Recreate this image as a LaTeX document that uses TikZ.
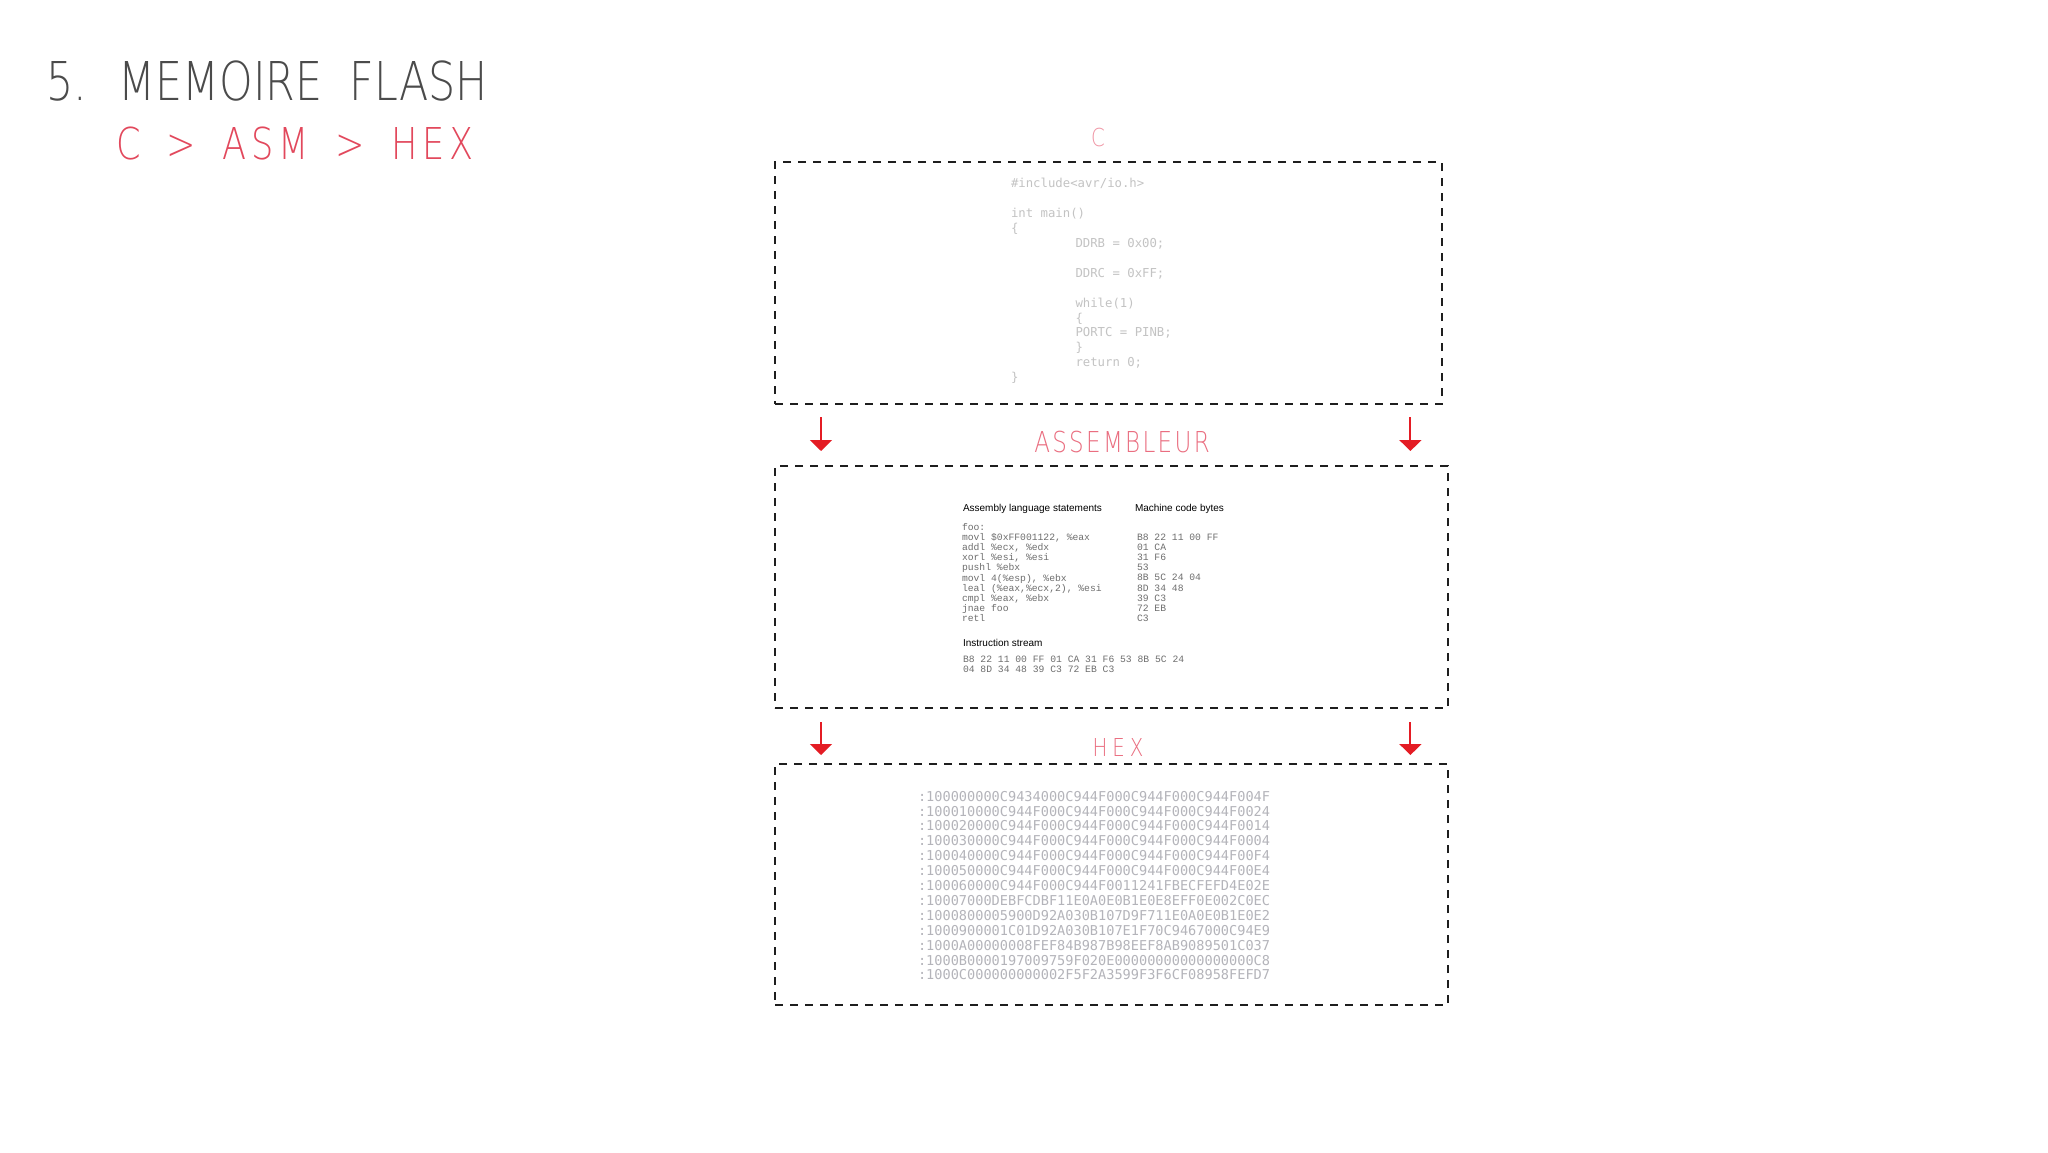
\documentclass[tikz,border=0pt]{standalone}
\usepackage{fontspec}
\usetikzlibrary{arrows.meta,calc}
\newfontfamily\cadfont{DejaVu Sans ExtraLight}[FakeStretch=0.8]
\newfontfamily\cadtitle{DejaVu Sans ExtraLight}[FakeStretch=0.8, WordSpace=2.0]
\newfontfamily\cadsub{DejaVu Sans ExtraLight}[FakeStretch=0.8, LetterSpace=11, WordSpace=1.65]
\newfontfamily\cadasm{DejaVu Sans ExtraLight}[FakeStretch=0.8, LetterSpace=8]
\newfontfamily\cadhex{DejaVu Sans ExtraLight}[FakeStretch=0.8, LetterSpace=20]
\newfontfamily\monofont{DejaVu Sans Mono}
\newfontfamily\helv{Liberation Sans}
\newfontfamily\cour{Liberation Mono}
\definecolor{titlegray}{RGB}{75,75,75}
\definecolor{subred}{RGB}{226,72,92}
\definecolor{labelred}{RGB}{234,110,128}
\definecolor{labelpink}{RGB}{240,150,165}
\definecolor{arrowred}{RGB}{228,28,36}
\definecolor{codegray}{RGB}{195,195,195}
\definecolor{hexgray}{RGB}{180,180,186}
\definecolor{asmgray}{RGB}{110,110,110}
\definecolor{boxblack}{RGB}{30,30,30}
\tikzset{
  dbox/.style={draw=boxblack, line width=1.2pt, dash pattern=on 4pt off 3.5pt, inner sep=0pt, anchor=north west},
  redarrow/.style={draw=arrowred, line width=1pt, -{Triangle[width=11pt,length=5.5pt]}},
  txt/.style={inner sep=0pt, outer sep=0pt},
}
\begin{document}
\begin{tikzpicture}[x=0.5pt,y=-0.5pt]
\useasboundingbox (0,0) rectangle (2048,1152);
\fill[white] (0,0) rectangle (2048,1152);

% titles
\node[txt, anchor=base west, text=titlegray, font={\cadtitle\fontsize{26.75pt}{30pt}\selectfont}] (title) at (46,100) {5. MEMOIRE FLASH};
\node[txt, anchor=base west, text=subred, font={\cadsub\fontsize{21.95pt}{25pt}\selectfont}] (subtitle) at (116,159) {C > ASM > HEX};

% section labels
\node[txt, anchor=base, text=labelpink, font={\cadfont\fontsize{12.35pt}{14pt}\selectfont}] (clabel) at (1098,146) {C};
\node[txt, anchor=base, text=labelred, font={\cadasm\fontsize{14.4pt}{16pt}\selectfont}] (asmlabel) at (1122,452) {ASSEMBLEUR};
\node[txt, anchor=base, text=labelred, font={\cadhex\fontsize{12.35pt}{14pt}\selectfont}] (hexlabel) at (1118,756) {HEX};

% boxes
\node[dbox, minimum width=333.5pt, minimum height=121pt] (cbox) at (774,161) {};
\node[dbox, minimum width=336.5pt, minimum height=121pt] (asmbox) at (774,465) {};
\node[dbox, minimum width=336.5pt, minimum height=120.5pt] (hexbox) at (774,763) {};

% C code
\node[txt, anchor=north west, align=left, text=codegray, font={\monofont\fontsize{6.15pt}{7.45pt}\selectfont}] (ccode) at (1011,178.5)
{\#include<avr/io.h>\\
\mbox{}\\
int main()\\
\{\\
\hspace*{32.25pt}DDRB = 0x00;\\
\mbox{}\\
\hspace*{32.25pt}DDRC = 0xFF;\\
\mbox{}\\
\hspace*{32.25pt}while(1)\\
\hspace*{32.25pt}\{\\
\hspace*{32.25pt}PORTC = PINB;\\
\hspace*{32.25pt}\}\\
\hspace*{32.25pt}return 0;\\
\}};

% ASM panel
\node[txt, anchor=base west, font={\helv\fontsize{5pt}{6pt}\selectfont}] (h1) at (963,511.5) {Assembly language statements};
\node[txt, anchor=base west, font={\helv\fontsize{5pt}{6pt}\selectfont}] (h2) at (1135,511.5) {Machine code bytes};
\node[txt, anchor=north west, align=left, text=asmgray, font={\cour\fontsize{4.85pt}{5.1pt}\selectfont}] (asmcode) at (962,523)
{foo:\\
movl \$0xFF001122, \%eax\\
addl \%ecx, \%edx\\
xorl \%esi, \%esi\\
pushl \%ebx\\
movl 4(\%esp), \%ebx\\
leal (\%eax,\%ecx,2), \%esi\\
cmpl \%eax, \%ebx\\
jnae foo\\
retl};
\node[txt, anchor=north west, align=left, text=asmgray, font={\cour\fontsize{4.85pt}{5.1pt}\selectfont}] (bytes) at (1137,533.5)
{B8 22 11 00 FF\\
01 CA\\
31 F6\\
53\\
8B 5C 24 04\\
8D 34 48\\
39 C3\\
72 EB\\
C3};
\node[txt, anchor=base west, font={\helv\fontsize{5pt}{6pt}\selectfont}] (h3) at (963,646.5) {Instruction stream};
\node[txt, anchor=north west, align=left, text=asmgray, font={\cour\fontsize{4.85pt}{5.1pt}\selectfont}] (stream) at (963,656)
{B8 22 11 00 FF 01 CA 31 F6 53 8B 5C 24\\
04 8D 34 48 39 C3 72 EB C3};

% HEX
\node[txt, anchor=north west, align=left, text=hexgray, font={\monofont\fontsize{6.8pt}{7.45pt}\selectfont}] (hexcode) at (918,791)
{:100000000C9434000C944F000C944F000C944F004F\\
:100010000C944F000C944F000C944F000C944F0024\\
:100020000C944F000C944F000C944F000C944F0014\\
:100030000C944F000C944F000C944F000C944F0004\\
:100040000C944F000C944F000C944F000C944F00F4\\
:100050000C944F000C944F000C944F000C944F00E4\\
:100060000C944F000C944F0011241FBECFEFD4E02E\\
:10007000DEBFCDBF11E0A0E0B1E0E8EFF0E002C0EC\\
:1000800005900D92A030B107D9F711E0A0E0B1E0E2\\
:1000900001C01D92A030B107E1F70C9467000C94E9\\
:1000A00000008FEF84B987B98EEF8AB9089501C037\\
:1000B0000197009759F020E00000000000000000C8\\
:1000C000000000002F5F2A3599F3F6CF08958FEFD7};

% arrows
\coordinate (a1s) at ($(cbox.south west)+(47,12)$);
\coordinate (a1e) at ($(asmbox.north west)+(47,-14)$);
\coordinate (a2s) at ($(cbox.south east)+(-33,12)$);
\coordinate (a2e) at ($(asmbox.north east)+(-39,-14)$);
\coordinate (a3s) at ($(asmbox.south west)+(47,13)$);
\coordinate (a3e) at ($(hexbox.north west)+(47,-8)$);
\coordinate (a4s) at ($(asmbox.south east)+(-39,13)$);
\coordinate (a4e) at ($(hexbox.north east)+(-39,-8)$);
\draw[redarrow] (a1s) -- (a1e);
\draw[redarrow] (a2s) -- (a2e);
\draw[redarrow] (a3s) -- (a3e);
\draw[redarrow] (a4s) -- (a4e);
\end{tikzpicture}
\end{document}
